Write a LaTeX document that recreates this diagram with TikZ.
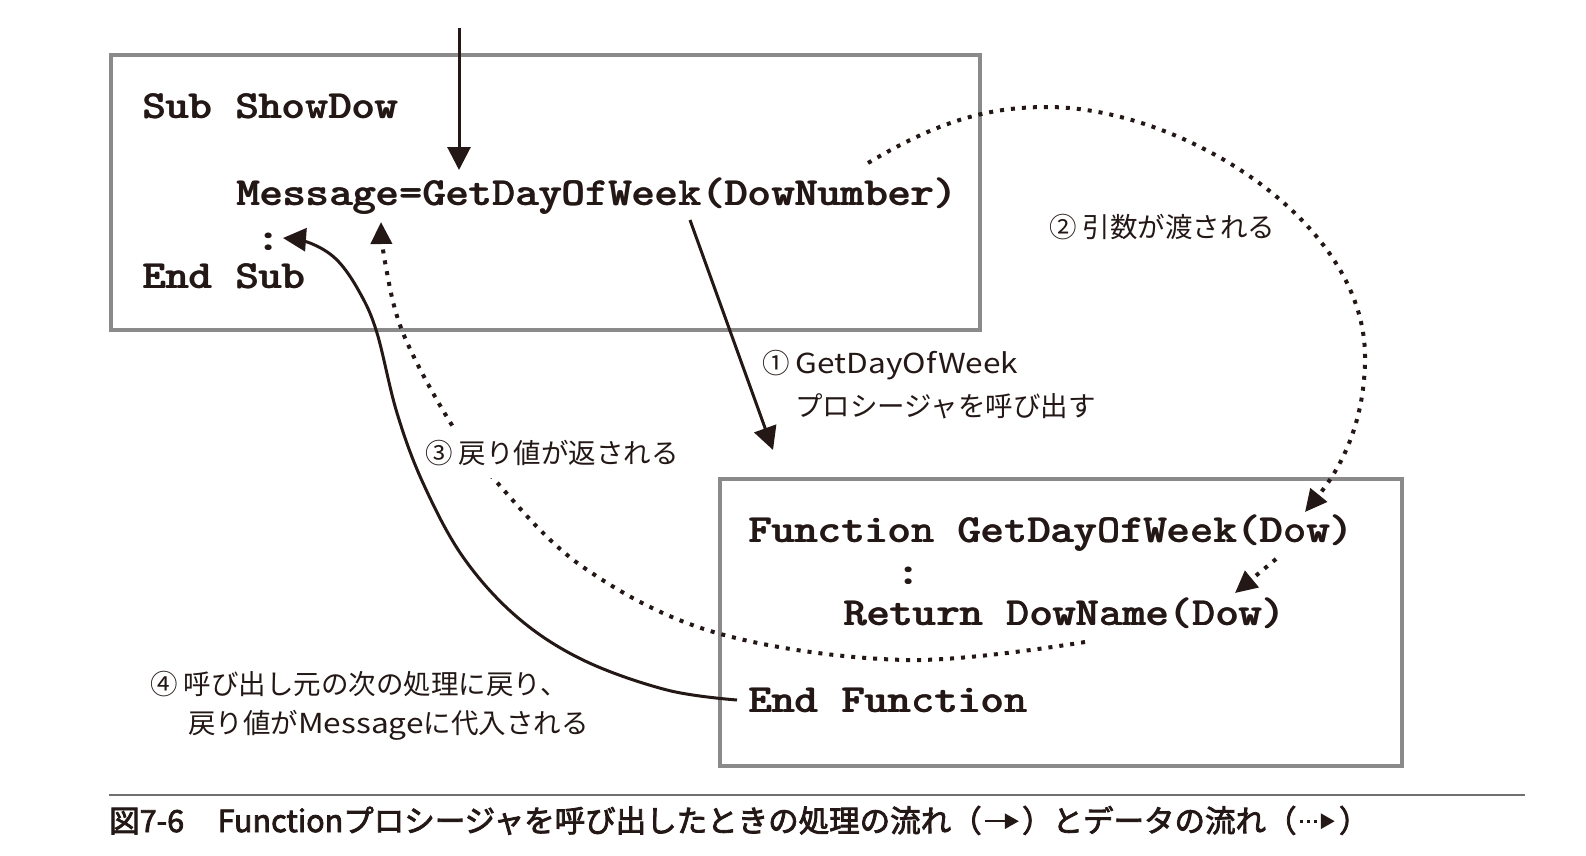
\documentclass[tikz,border=0pt]{standalone}
\usepackage{fontspec}
\usepackage{graphicx}
\usetikzlibrary{arrows.meta}
\newfontfamily\jp{Noto Sans CJK JP}
\newfontfamily\jpcap{Noto Sans CJK JP}[FakeBold=2.6]
\definecolor{boxgray}{HTML}{8A8A8A}
\definecolor{rulegray}{HTML}{707070}
\definecolor{ink}{HTML}{231815}
\newcommand\codebox[1]{\scalebox{1}[0.9]{\fontsize{44.3}{50}\selectfont\ttfamily\bfseries\rlap{#1}\kern0.9pt #1}}
\newcommand\lat[1]{\scalebox{1.15}[1]{#1}}
\begin{document}
\begin{tikzpicture}[x=1pt,y=-1pt,
  box/.style={draw=boxgray,line width=3.5pt,inner sep=0pt,anchor=north west},
  code/.style={anchor=base west,inner sep=0pt,text=ink},
  lbl/.style={anchor=base west,inner sep=0pt,text=ink,font=\jp\fontsize{27.5}{32}\selectfont},
  captxt/.style={anchor=base west,inner sep=0pt,text=ink,font=\jpcap\fontsize{30.5}{34}\selectfont},
  flow/.style={draw=ink,line width=3pt,-{Triangle[length=23pt,width=23pt]}},
  data/.style={draw=ink,line width=4pt,dash pattern=on 4pt off 7pt,-{Triangle[length=22pt,width=21pt]}},
  capflow/.style={draw=ink,line width=2.5pt,-{Triangle[length=14pt,width=15pt]}},
  capdata/.style={draw=ink,line width=3pt,dash pattern=on 3pt off 4pt,-{Triangle[length=14pt,width=15pt]}}
]
\useasboundingbox[fill=white] (0,0) rectangle (1586,855);

% boxes
\node[box,minimum width=869pt,minimum height=275pt] (sub) at (109,53) {};
\node[box,minimum width=682pt,minimum height=287pt] (func) at (718,477) {};

% code in Sub
\node[code] (l1) at (142,118) {\codebox{Sub ShowDow}};
\node[code] (l2) at (236,205) {\codebox{Message=GetDayOfWeek(DowNumber)}};
\node[code,anchor=base] (l3) at (269,250) {\codebox{:}};
\node[code] (l4) at (142,288) {\codebox{End Sub}};

% code in Function
\node[code] (f1) at (748,542) {\codebox{Function GetDayOfWeek(Dow)}};
\node[code,anchor=base] (f2) at (909,584) {\codebox{:}};
\node[code] (f3) at (843,625) {\codebox{Return DowName(Dow)}};
\node[code] (f4) at (748,712) {\codebox{End Function}};

% labels
\node[lbl] (t1a) at (762,373) {① \lat{GetDayOfWeek}};
\node[lbl] (t1b) at (795,416) {プロシージャを呼び出す};
\node[lbl] (t2) at (1049,237) {② 引数が渡される};
\node[lbl] (t4a) at (150,694) {④ 呼び出し元の次の処理に戻り、};
\node[lbl] (t4b) at (188,733) {戻り値が\lat{Message}に代入される};

% top entry arrow
\coordinate (in0) at (459,28);
\coordinate (in1) at (459,170);
\draw[flow] (in0) -- (in1);

% (1) call
\coordinate (c1s) at (690,220);
\coordinate (c1e) at (773,450);
\draw[flow] (c1s) -- (c1e);

% (2) argument passed
\coordinate (d2s) at (868,163);
\coordinate (d2m) at (1047,107);
\coordinate (d2r) at (1365,357);
\coordinate (d2e) at (1305,512);
\draw[data] (d2s) .. controls (940,120) and (990,107) .. (d2m)
  .. controls (1180,107) and (1365,220) .. (d2r)
  .. controls (1365,430) and (1335,475) .. (d2e);
\coordinate (d2bs) at (1276,559);
\coordinate (d2be) at (1235,593);
\draw[data] (d2bs) -- (d2be);

% (3) return value
\coordinate (d3s) at (1085,642);
\coordinate (d3e) at (381,222);
\draw[data] plot[smooth,tension=0.6] coordinates {(d3s) (906,660) (717,633) (583,567) (493,478) (450,422) (403,333) (385,262) (d3e)};
\node[lbl,fill=white,inner xsep=2pt,inner ysep=13pt] (t3) at (423,463) {③ 戻り値が返される};

% (4) back to caller
\coordinate (r4s) at (737,700);
\coordinate (r4e) at (283,238);
\draw[flow] plot[smooth,tension=0.6] coordinates {(r4s) (667,690) (583,660) (517,617) (463,557) (423,483) (397,413) (377,333) (360,293) (337,260) (310,243) (r4e)};

% caption
\coordinate (ru0) at (109,795);
\coordinate (ru1) at (1525,795);
\draw[rulegray,line width=2pt] (ru0) -- (ru1);
\node[captxt] (cp1) at (109,832) {図7-6\hspace{1.1em}Functionプロシージャを呼び出したときの処理の流れ（};
\coordinate (ca1) at ([xshift=3pt,yshift=10.8pt]cp1.base east);
\coordinate (ca2) at ([xshift=37pt,yshift=10.8pt]cp1.base east);
\draw[capflow] (ca1) -- (ca2);
\node[captxt] (cp2) at ([xshift=40pt]cp1.base east) {）とデータの流れ（};
\coordinate (cb1) at ([xshift=3pt,yshift=10.8pt]cp2.base east);
\coordinate (cb2) at ([xshift=38pt,yshift=10.8pt]cp2.base east);
\draw[capdata] (cb1) -- (cb2);
\node[captxt] (cp3) at ([xshift=42pt]cp2.base east) {）};
\end{tikzpicture}
\end{document}
